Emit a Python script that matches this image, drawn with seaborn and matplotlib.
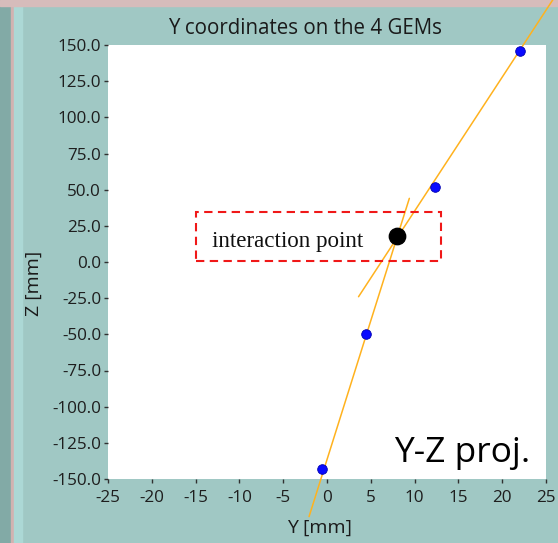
import matplotlib.pyplot as plt
import numpy as np
import pandas as pd
import seaborn as sns
from matplotlib.patches import Rectangle

# GEM hits in the Y-Z projection
gem_y = [-0.6, 4.5, 12.3, 22.0]
gem_z = [-143.0, -50.0, 52.0, 146.0]

# fitted track segments (two straight-line fits, endpoints)
track_id = ["upper", "upper", "lower", "lower"]
track_y = [3.6, 26.4, -2.05, 9.4]
track_z = [-24.0, 187.0, -176.0, 44.0]

# reconstructed interaction point
ip_y = [8.0]
ip_z = [18.0]

x_ticks = list(range(-25, 30, 5))
z_ticks = list(range(-150, 175, 25))

BG = "#a0c8c4"

sns.set_theme(style="white")
plt.rcParams["font.family"] = ["Open Sans", "DejaVu Sans"]

fig = plt.figure(figsize=(5.58, 5.43), dpi=100, facecolor=BG)
# window frame decoration on the left / top
fig.patches.append(Rectangle((0, 0), 11 / 558, 1, transform=fig.transFigure,
                             color="#82aaa6", zorder=-5))
fig.patches.append(Rectangle((11 / 558, 0), 2.5 / 558, 1, transform=fig.transFigure,
                             color="#d2b2b0", zorder=-5))
fig.patches.append(Rectangle((13.5 / 558, 0), 8 / 558, 1, transform=fig.transFigure,
                             color="#acd8d5", zorder=-5))
fig.patches.append(Rectangle((0, 1 - 6 / 543), 1, 6 / 543, transform=fig.transFigure,
                             color="#d6bcbb", zorder=-4))

ax = fig.add_axes([108 / 558, 1 - 479 / 543, 438 / 558, 434 / 543])
ax.set_facecolor("white")

tracks = pd.DataFrame({"track": track_id, "y": track_y, "z": track_z})
sns.lineplot(tracks, x="y", y="z", units="track", estimator=None, sort=False,
             color="#ffb21e", lw=1.1, ax=ax, legend=False)
for ln in ax.lines:
    ln.set_clip_on(False)

hits = pd.DataFrame({"y": gem_y, "z": gem_z})
sns.scatterplot(hits, x="y", y="z", s=48, color="#0a0aff", edgecolor="#0000b0",
                linewidth=0.6, ax=ax, zorder=4, clip_on=False)
sns.scatterplot(x=ip_y, y=ip_z, s=140, color="black", edgecolor="black", ax=ax,
                zorder=5)

ax.add_patch(Rectangle((-15.0, 0.7), 28.0, 34.0, fill=False, ec="#f01818", lw=1.5,
                       ls=(0, (4, 2.6)), zorder=3))
ax.text(-13.1, 10.5, "interaction point", family="Liberation Serif", fontsize=16.6,
        color="#101010", va="baseline", ha="left")
ax.text(23.2, -138.5, "Y-Z proj.", fontsize=25.5, color="black", ha="right",
        va="baseline")

ax.set_xlim(-25, 25)
ax.set_ylim(-150, 150)
ax.set_xticks(x_ticks)
ax.set_xticklabels([str(t) for t in x_ticks])
ax.set_yticks(z_ticks)
ax.set_yticklabels([f"{t:.1f}" for t in z_ticks])
ax.tick_params(axis="both", which="major", direction="out", length=3, width=1,
               color="#303030", labelsize=12.3, labelcolor="#1e1e1e", pad=2,
               bottom=True, left=True)
ax.tick_params(axis="x", pad=5)
for sp in ax.spines.values():
    sp.set_visible(False)
ax.set_xlabel("")
ax.set_ylabel("")

fig.text(305 / 558, 1 - 29 / 543, "Y coordinates on the 4 GEMs", fontsize=14.8,
         color="#1a1a1a", ha="center", va="center")
fig.text(320 / 558, 1 - 528 / 543, "Y [mm]", fontsize=14, color="#1a1a1a",
         ha="center", va="center")
fig.text(34 / 558, 1 - 283 / 543, "Z [mm]", fontsize=14, color="#1a1a1a",
         ha="center", va="center", rotation=90)

fig.savefig("out.png", dpi=100, facecolor=BG)
